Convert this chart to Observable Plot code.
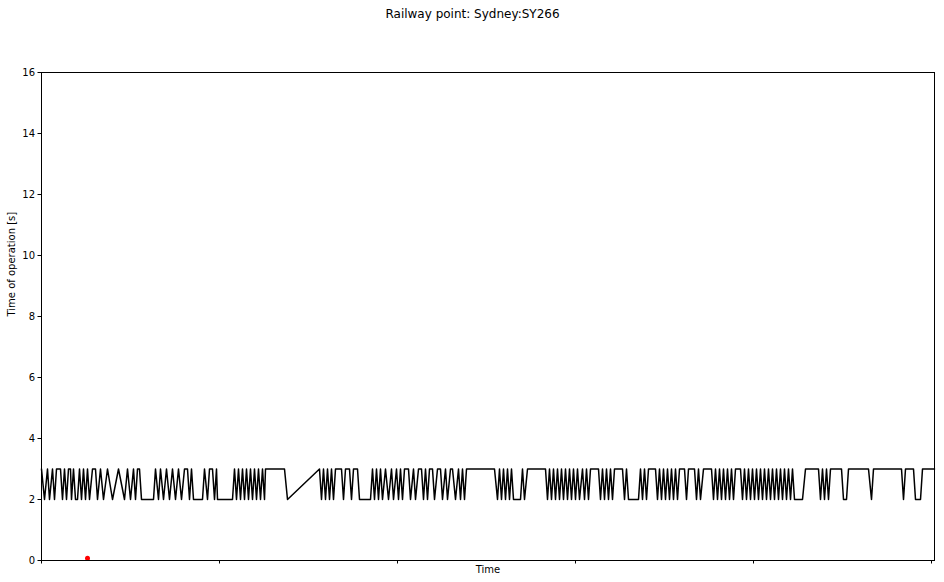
<!DOCTYPE html>
<html>
<head>
<meta charset="utf-8">
<script src="https://cdn.jsdelivr.net/npm/d3@7"></script>
<script src="https://cdn.jsdelivr.net/npm/@observablehq/plot@0.6"></script>
<style>
  html, body { margin: 0; padding: 0; background: #fff; }
  #chart svg { font-family: "DejaVu Sans", sans-serif; display: block; }
</style>
</head>
<body>
<div id="chart"></div>
<script>
const title = "Railway point: Sydney:SY266";
const xLabel = "Time";
const yLabel = "Time of operation [s]";

// sample times (arbitrary time units from the first record)
const times = [
  0, 3, 6, 8, 11, 13, 15, 19, 21, 23, 25, 27, 29, 30, 32, 34, 36, 38, 40, 42, 44, 46, 48, 51, 54, 56, 59, 62, 66, 71, 77, 83, 86, 89, 92, 94, 96, 98, 100, 102, 112, 114,
  117, 119, 122, 125, 128, 131, 134, 137, 140, 143, 146, 148, 150, 152, 161, 163, 166, 168, 171, 173, 175, 176, 191, 193, 195, 197, 199, 201, 203, 205, 207, 209, 211, 213, 215, 217, 219, 221, 223, 224, 243, 246, 278,
  280, 282, 284, 286, 288, 290, 292, 294, 300, 302, 304, 308, 310, 312, 316, 318, 329, 331, 333, 335, 337, 339, 341, 344, 347, 350, 352, 355, 357, 359,
  361, 363, 367, 369, 372, 374, 377, 380, 382, 384, 386, 388, 391, 393, 396, 399, 401, 404, 406, 409, 411, 414, 417, 419, 421, 423, 425, 453, 456, 458, 460, 462, 464, 466, 468, 470, 472, 479, 481, 483, 486, 504, 506, 508, 510, 512, 514, 516, 518, 520, 522, 524, 526, 528, 530, 532, 534, 536, 538,
  541, 543, 545, 547, 549, 557, 559, 561, 563, 565, 567, 569, 571, 573, 581, 583, 585, 587, 597, 599, 601, 603, 605, 607, 614, 616, 618, 620, 622, 624, 626, 628, 630, 632, 634, 636, 638, 643, 645, 647, 653, 655, 657, 659, 662, 670, 672, 674, 676, 678, 680, 682, 684, 686, 688, 690, 692, 694, 699, 701, 703, 705, 707, 709, 711, 713, 715, 717, 719,
  721, 723, 725, 727, 729, 731, 733, 735, 737, 739, 741, 743, 745, 747, 749, 751, 753, 761, 764, 777, 779, 781, 783, 785, 787, 789, 800, 802, 805, 807, 827, 830, 832, 860, 862, 864, 872, 874, 879, 881, 893
];
// operation time [s]
const values = [
  3, 2, 3, 2, 3, 2, 3, 3, 2, 3, 2, 3, 3, 2, 3, 2, 2, 3, 2, 3, 2, 3, 2, 3, 3, 2, 3, 2, 3, 2, 3, 2, 3, 2, 3, 2, 3, 3, 2, 2, 2, 3,
  2, 3, 2, 3, 2, 3, 2, 3, 2, 3, 3, 2, 3, 2, 2, 3, 2, 3, 3, 2, 3, 2, 2, 3, 2, 3, 2, 3, 2, 3, 2, 3, 2, 3, 2, 3, 2, 3, 2, 3, 3, 2, 3,
  2, 3, 2, 3, 2, 3, 2, 3, 3, 2, 3, 3, 2, 3, 3, 2, 2, 3, 2, 3, 2, 3, 2, 3, 2, 3, 2, 3, 2, 3,
  2, 3, 3, 2, 3, 2, 3, 3, 2, 3, 2, 3, 3, 2, 3, 3, 2, 3, 2, 3, 3, 2, 3, 2, 3, 2, 3, 3, 2, 3, 2, 3, 2, 3, 2, 3, 2, 2, 3, 2, 3, 3, 2, 3, 2, 3, 2, 3, 2, 3, 2, 3, 2, 3, 2, 3, 2, 3, 2,
  3, 2, 3, 2, 3, 3, 2, 3, 2, 3, 2, 3, 2, 3, 3, 2, 3, 2, 2, 3, 2, 3, 2, 3, 3, 2, 3, 2, 3, 2, 3, 2, 3, 2, 3, 2, 3, 3, 2, 3, 3, 2, 3, 2, 3, 3, 2, 3, 2, 3, 2, 3, 2, 3, 2, 3, 2, 3, 3, 2, 3, 2, 3, 2, 3, 2, 3, 2, 3,
  2, 3, 2, 3, 2, 3, 2, 3, 2, 3, 2, 3, 2, 3, 2, 3, 2, 2, 3, 3, 2, 3, 2, 3, 2, 3, 3, 2, 2, 3, 3, 2, 3, 3, 2, 3, 3, 2, 2, 3, 3
];
// flagged event (red marker)
const eventTimes = [46];
const eventValues = [0.07];

const xTicks = [0, 178, 356, 534, 712, 890];
const yTicks = [0, 2, 4, 6, 8, 10, 12, 14, 16];

const series = times.map((t, i) => ({t, v: values[i]}));
const events = eventTimes.map((t, i) => ({t, v: eventValues[i]}));

const chart = Plot.plot({
  width: 944,
  height: 582,
  marginTop: 72,
  marginRight: 10,
  marginBottom: 22,
  marginLeft: 41,
  style: {fontFamily: "DejaVu Sans, sans-serif", fontSize: "10px", color: "black", background: "white"},
  x: {domain: [0, 893]},
  y: {domain: [0, 16]},
  marks: [
    Plot.axisY({ticks: yTicks, tickSize: 3.5, tickPadding: 3, fontSize: 10, label: null}),
    Plot.axisX({ticks: xTicks, tickFormat: () => "", tickSize: 3.5, label: null}),
    Plot.line(series, {x: "t", y: "v", stroke: "black", strokeWidth: 1.5}),
    Plot.dot(events, {x: "t", y: "v", r: 2.5, fill: "red", stroke: "none"}),
    Plot.frame({stroke: "black", strokeWidth: 1}),
    Plot.text([title], {frameAnchor: "top", dy: -63, dx: -15.5, fontSize: 12, fill: "black"}),
    Plot.text([xLabel], {frameAnchor: "bottom", dy: 12, fontSize: 10, fill: "black"}),
    Plot.text([yLabel], {frameAnchor: "left", dx: -30, rotate: -90, fontSize: 10, fill: "black"})
  ]
});
document.getElementById("chart").appendChild(chart);
</script>
</body>
</html>
